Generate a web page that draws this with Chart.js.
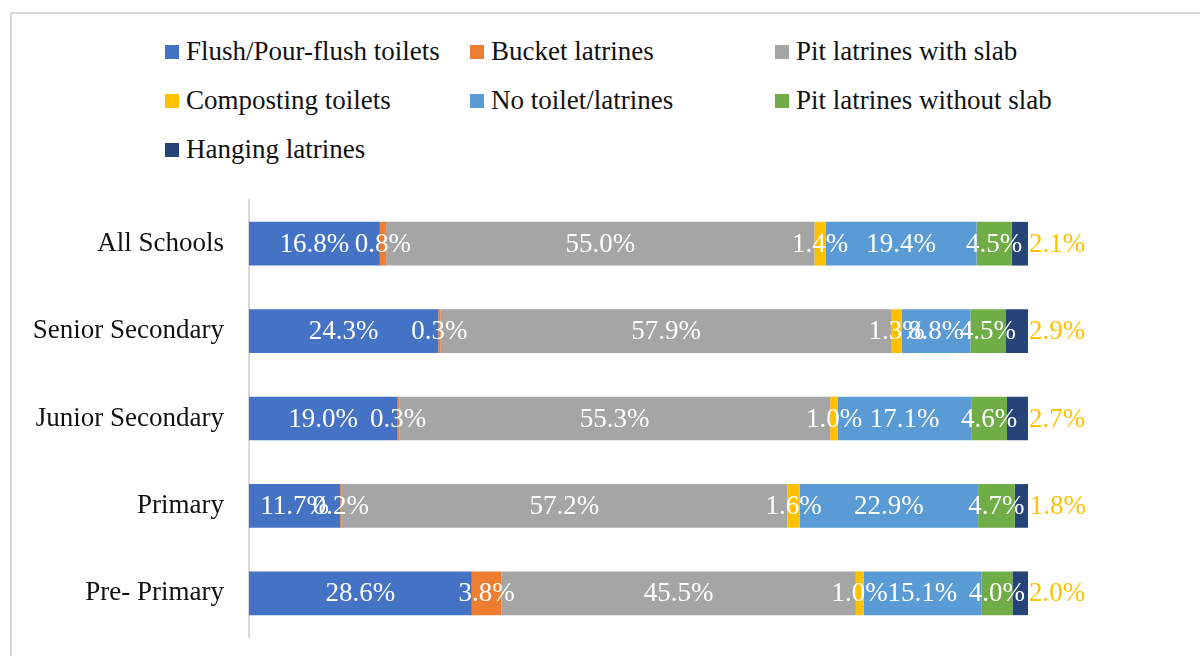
<!DOCTYPE html>
<html>
<head>
<meta charset="utf-8">
<script src="https://cdn.jsdelivr.net/npm/chart.js@4.4.1/dist/chart.umd.min.js"></script>
<style>
  html, body { margin: 0; padding: 0; background: #fff; }
  #wrap { position: relative; width: 1200px; height: 656px; overflow: hidden; }
  #frame { position: absolute; left: 10px; top: 12px; width: 1300px; height: 800px; border: 2px solid #d9d9d9; box-sizing: border-box; }
  #legend {
    position: absolute; left: 165px; top: 27px;
    display: grid; grid-template-columns: repeat(3, 305px); grid-auto-rows: 49px;
    font-family: "Liberation Serif", "Times New Roman", Times, "DejaVu Serif", serif; font-size: 27px; color: #111;
  }
  #legend .item { display: flex; align-items: center; white-space: nowrap; }
  #legend .box { width: 14px; height: 14px; margin-right: 7px; flex: none; }
  canvas { position: absolute; left: 0; top: 0; }
</style>
</head>
<body>
<div id="wrap">
  <div id="frame"></div>
  <div id="legend"></div>
  <canvas id="chart" width="1200" height="656"></canvas>
</div>
<script>
const CATEGORIES = ['All Schools', 'Senior Secondary', 'Junior Secondary', 'Primary', 'Pre- Primary'];

const FLUSH      = [16.8, 24.3, 19.0, 11.7, 28.6];
const BUCKET     = [0.8, 0.3, 0.3, 0.2, 3.8];
const PIT_SLAB   = [55.0, 57.9, 55.3, 57.2, 45.5];
const COMPOSTING = [1.4, 1.3, 1.0, 1.6, 1.0];
const NO_TOILET  = [19.4, 8.8, 17.1, 22.9, 15.1];
const PIT_NOSLAB = [4.5, 4.5, 4.6, 4.7, 4.0];
const HANGING    = [2.1, 2.9, 2.7, 1.8, 2.0];

const SERIES = [
  { label: 'Flush/Pour-flush toilets', data: FLUSH, color: '#4472C4' },
  { label: 'Bucket latrines', data: BUCKET, color: '#ED7D31' },
  { label: 'Pit latrines with slab', data: PIT_SLAB, color: '#A5A5A5' },
  { label: 'Composting toilets', data: COMPOSTING, color: '#FFC000' },
  { label: 'No toilet/latrines', data: NO_TOILET, color: '#5B9BD5' },
  { label: 'Pit latrines without slab', data: PIT_NOSLAB, color: '#70AD47' },
  { label: 'Hanging latrines', data: HANGING, color: '#264478' }
];

const FONT = '"Liberation Serif", "Times New Roman", Times, "DejaVu Serif", serif';

// legend as html, 3 columns like the original
const legendEl = document.getElementById('legend');
SERIES.forEach(s => {
  const item = document.createElement('div');
  item.className = 'item';
  item.innerHTML = `<span class="box" style="background:${s.color}"></span><span>${s.label}</span>`;
  legendEl.appendChild(item);
});

// value labels: centered in segment, last series just past the bar end
const barLabels = {
  id: 'barLabels',
  afterDatasetsDraw(chart) {
    const ctx = chart.ctx;
    const last = chart.data.datasets.length - 1;
    ctx.save();
    ctx.font = `27px ${FONT}`;
    ctx.textBaseline = 'middle';
    chart.data.datasets.forEach((ds, i) => {
      chart.getDatasetMeta(i).data.forEach((bar, j) => {
        const txt = ds.data[j].toFixed(1) + '%';
        if (i === last) {
          ctx.fillStyle = '#FFC000';
          ctx.textAlign = 'left';
          ctx.fillText(txt, bar.x + 1, bar.y + 1);
        } else {
          ctx.fillStyle = '#ffffff';
          ctx.textAlign = 'center';
          ctx.fillText(txt, (bar.x + bar.base) / 2, bar.y + 1);
        }
      });
    });
    ctx.restore();
  }
};

new Chart(document.getElementById('chart'), {
  type: 'bar',
  data: {
    labels: CATEGORIES,
    datasets: SERIES.map(s => ({
      label: s.label,
      data: s.data,
      backgroundColor: s.color,
      borderWidth: 0,
      categoryPercentage: 1,
      barPercentage: 0.5
    }))
  },
  options: {
    responsive: false,
    animation: false,
    indexAxis: 'y',
    layout: { padding: { left: 0, right: 172, top: 200, bottom: 19 } },
    plugins: {
      legend: { display: false },
      tooltip: { enabled: false }
    },
    scales: {
      x: { stacked: true, display: false, min: 0, max: 100 },
      y: {
        stacked: true,
        afterFit: s => { s.width = 249; s.paddingTop = 0; s.paddingBottom = 0; },
        grid: { drawOnChartArea: false, drawTicks: false },
        border: { display: true, color: '#d9d9d9', width: 2 },
        ticks: { color: '#111', padding: 25, font: { family: FONT, size: 27 } }
      }
    }
  },
  plugins: [barLabels]
});
</script>
</body>
</html>
